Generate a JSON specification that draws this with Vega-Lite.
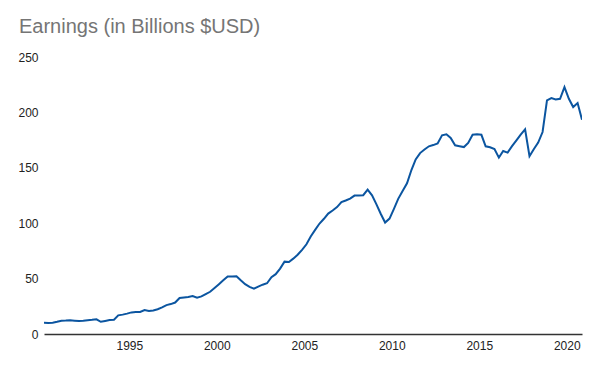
{
  "$schema": "https://vega.github.io/schema/vega-lite/v6.json",
  "width": 538,
  "height": 277,
  "autosize": "none",
  "padding": {"left": 44, "top": 57, "right": 18, "bottom": 37},
  "background": "white",
  "title": {
    "text": "Earnings (in Billions $USD)",
    "anchor": "start",
    "frame": "group",
    "font": "Liberation Sans",
    "fontSize": 20,
    "fontWeight": "normal",
    "color": "#757575",
    "dx": -25,
    "offset": 14
  },
  "data": {
    "values": [
      {"date": "1990-02-15", "earnings": 10.2},
      {"date": "1990-05-15", "earnings": 10.0},
      {"date": "1990-08-15", "earnings": 10.2},
      {"date": "1990-11-15", "earnings": 11.0},
      {"date": "1991-02-15", "earnings": 12.0},
      {"date": "1991-05-15", "earnings": 12.1},
      {"date": "1991-08-15", "earnings": 12.3},
      {"date": "1991-11-15", "earnings": 12.0},
      {"date": "1992-02-15", "earnings": 11.7},
      {"date": "1992-05-15", "earnings": 12.0},
      {"date": "1992-08-15", "earnings": 12.5},
      {"date": "1992-11-15", "earnings": 12.8},
      {"date": "1993-02-15", "earnings": 13.2},
      {"date": "1993-05-15", "earnings": 11.0},
      {"date": "1993-08-15", "earnings": 11.8},
      {"date": "1993-11-15", "earnings": 12.6},
      {"date": "1994-02-15", "earnings": 12.8},
      {"date": "1994-05-15", "earnings": 16.8},
      {"date": "1994-08-15", "earnings": 17.5},
      {"date": "1994-11-15", "earnings": 18.4},
      {"date": "1995-02-15", "earnings": 19.5},
      {"date": "1995-05-15", "earnings": 19.8},
      {"date": "1995-08-15", "earnings": 19.9},
      {"date": "1995-11-15", "earnings": 21.6},
      {"date": "1996-02-15", "earnings": 20.7},
      {"date": "1996-05-15", "earnings": 21.3},
      {"date": "1996-08-15", "earnings": 22.3},
      {"date": "1996-11-15", "earnings": 24.0},
      {"date": "1997-02-15", "earnings": 26.1},
      {"date": "1997-05-15", "earnings": 27.0},
      {"date": "1997-08-15", "earnings": 28.4},
      {"date": "1997-11-15", "earnings": 32.5},
      {"date": "1998-02-15", "earnings": 33.0},
      {"date": "1998-05-15", "earnings": 33.4},
      {"date": "1998-08-15", "earnings": 34.2},
      {"date": "1998-11-15", "earnings": 32.7},
      {"date": "1999-02-15", "earnings": 33.9},
      {"date": "1999-05-15", "earnings": 36.0},
      {"date": "1999-08-15", "earnings": 38.1},
      {"date": "1999-11-15", "earnings": 41.5},
      {"date": "2000-02-15", "earnings": 45.0},
      {"date": "2000-05-15", "earnings": 48.5},
      {"date": "2000-08-15", "earnings": 52.0},
      {"date": "2000-11-15", "earnings": 52.0},
      {"date": "2001-02-15", "earnings": 52.2},
      {"date": "2001-05-15", "earnings": 48.5},
      {"date": "2001-08-15", "earnings": 45.0},
      {"date": "2001-11-15", "earnings": 42.5},
      {"date": "2002-02-15", "earnings": 41.0},
      {"date": "2002-05-15", "earnings": 42.8},
      {"date": "2002-08-15", "earnings": 44.5},
      {"date": "2002-11-15", "earnings": 45.8},
      {"date": "2003-02-15", "earnings": 51.3},
      {"date": "2003-05-15", "earnings": 54.0},
      {"date": "2003-08-15", "earnings": 59.0},
      {"date": "2003-11-15", "earnings": 65.3},
      {"date": "2004-02-15", "earnings": 65.0},
      {"date": "2004-05-15", "earnings": 68.0},
      {"date": "2004-08-15", "earnings": 71.5},
      {"date": "2004-11-15", "earnings": 76.0},
      {"date": "2005-02-15", "earnings": 81.0},
      {"date": "2005-05-15", "earnings": 88.0},
      {"date": "2005-08-15", "earnings": 94.0},
      {"date": "2005-11-15", "earnings": 99.7},
      {"date": "2006-02-15", "earnings": 104.0},
      {"date": "2006-05-15", "earnings": 108.7},
      {"date": "2006-08-15", "earnings": 111.5},
      {"date": "2006-11-15", "earnings": 114.5},
      {"date": "2007-02-15", "earnings": 119.0},
      {"date": "2007-05-15", "earnings": 120.5},
      {"date": "2007-08-15", "earnings": 122.2},
      {"date": "2007-11-15", "earnings": 124.9},
      {"date": "2008-02-15", "earnings": 125.0},
      {"date": "2008-05-15", "earnings": 125.3},
      {"date": "2008-08-15", "earnings": 130.3},
      {"date": "2008-11-15", "earnings": 125.2},
      {"date": "2009-02-15", "earnings": 117.0},
      {"date": "2009-05-15", "earnings": 108.5},
      {"date": "2009-08-15", "earnings": 100.6},
      {"date": "2009-11-15", "earnings": 104.2},
      {"date": "2010-02-15", "earnings": 113.0},
      {"date": "2010-05-15", "earnings": 122.0},
      {"date": "2010-08-15", "earnings": 129.0},
      {"date": "2010-11-15", "earnings": 136.0},
      {"date": "2011-02-15", "earnings": 148.0},
      {"date": "2011-05-15", "earnings": 157.5},
      {"date": "2011-08-15", "earnings": 163.3},
      {"date": "2011-11-15", "earnings": 166.5},
      {"date": "2012-02-15", "earnings": 169.4},
      {"date": "2012-05-15", "earnings": 170.5},
      {"date": "2012-08-15", "earnings": 172.0},
      {"date": "2012-11-15", "earnings": 179.3},
      {"date": "2013-02-15", "earnings": 180.2},
      {"date": "2013-05-15", "earnings": 177.0},
      {"date": "2013-08-15", "earnings": 170.3},
      {"date": "2013-11-15", "earnings": 169.5},
      {"date": "2014-02-15", "earnings": 168.7},
      {"date": "2014-05-15", "earnings": 172.5},
      {"date": "2014-08-15", "earnings": 179.9},
      {"date": "2014-11-15", "earnings": 180.2},
      {"date": "2015-02-15", "earnings": 179.8},
      {"date": "2015-05-15", "earnings": 169.4},
      {"date": "2015-08-15", "earnings": 168.5},
      {"date": "2015-11-15", "earnings": 167.0},
      {"date": "2016-02-15", "earnings": 159.2},
      {"date": "2016-05-15", "earnings": 165.1},
      {"date": "2016-08-15", "earnings": 163.7},
      {"date": "2016-11-15", "earnings": 169.5},
      {"date": "2017-02-15", "earnings": 174.8},
      {"date": "2017-05-15", "earnings": 180.0},
      {"date": "2017-08-15", "earnings": 184.7},
      {"date": "2017-11-15", "earnings": 160.4},
      {"date": "2018-02-15", "earnings": 167.0},
      {"date": "2018-05-15", "earnings": 172.8},
      {"date": "2018-08-15", "earnings": 182.3},
      {"date": "2018-11-15", "earnings": 210.8},
      {"date": "2019-02-15", "earnings": 212.9},
      {"date": "2019-05-15", "earnings": 211.7},
      {"date": "2019-08-15", "earnings": 212.3},
      {"date": "2019-11-15", "earnings": 222.8},
      {"date": "2020-02-15", "earnings": 212.3},
      {"date": "2020-05-15", "earnings": 204.8},
      {"date": "2020-08-15", "earnings": 208.4},
      {"date": "2020-11-15", "earnings": 193.4}
    ]
  },
  "mark": {"type": "line", "color": "#0b55a0", "strokeWidth": 2, "clip": true},
  "encoding": {
    "x": {
      "field": "date",
      "type": "temporal",
      "scale": {"domain": ["1990-02-15", "2020-11-15"], "nice": false},
      "axis": {
        "title": null,
        "grid": false,
        "ticks": false,
        "domain": true,
        "domainColor": "#333333",
        "domainWidth": 1.5,
        "values": ["1995-01-01", "2000-01-01", "2005-01-01", "2010-01-01", "2015-01-01", "2020-01-01"],
        "format": "%Y",
        "labelFont": "Liberation Sans",
        "labelFontSize": 12,
        "labelColor": "#222222",
        "labelPadding": 6,
        "labelBaseline": "top"
      }
    },
    "y": {
      "field": "earnings",
      "type": "quantitative",
      "scale": {"domain": [0, 250], "nice": false},
      "axis": {
        "title": null,
        "grid": false,
        "ticks": false,
        "domain": false,
        "values": [0, 50, 100, 150, 200, 250],
        "labelFont": "Liberation Sans",
        "labelFontSize": 12,
        "labelColor": "#222222",
        "labelPadding": 6
      }
    }
  },
  "config": {"view": {"stroke": null}}
}
